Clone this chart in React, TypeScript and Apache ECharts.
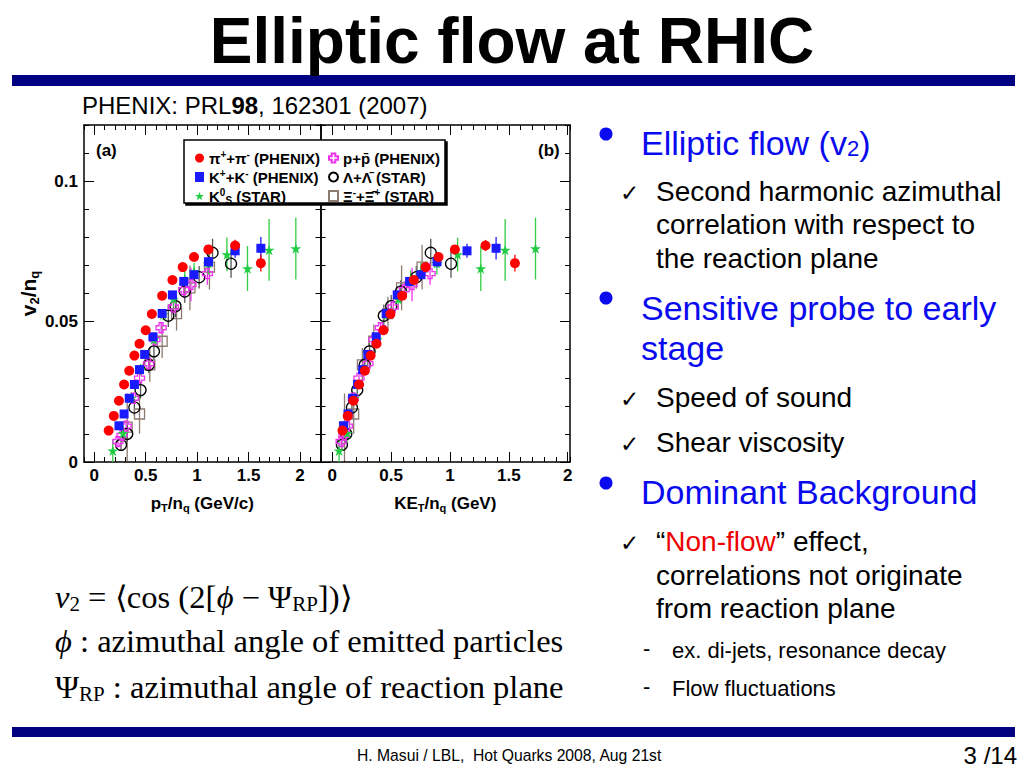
import React, { useEffect, useRef } from 'react';
import * as echarts from 'echarts';

// ---------------- data ----------------
// pi+ + pi- (PHENIX)
const piPt = [0.14, 0.19, 0.24, 0.29, 0.34, 0.39, 0.44, 0.50, 0.56, 0.66, 0.76, 0.86, 0.97, 1.11, 1.37, 1.62];
const piKe = [0.087, 0.132, 0.180, 0.228, 0.277, 0.326, 0.376, 0.435, 0.494, 0.594, 0.693, 0.793, 0.903, 1.042, 1.302, 1.552];
const piV = [0.0112, 0.0164, 0.0218, 0.0276, 0.0325, 0.0379, 0.0421, 0.0469, 0.0527, 0.0592, 0.0648, 0.0694, 0.0730, 0.0757, 0.0771, 0.0708];
const piErr = [0.0008, 0.0008, 0.0008, 0.0008, 0.0008, 0.0008, 0.0008, 0.0008, 0.0009, 0.0009, 0.001, 0.001, 0.0012, 0.0015, 0.002, 0.003];
// K+ + K- (PHENIX)
const kPt = [0.24, 0.29, 0.34, 0.39, 0.44, 0.49, 0.57, 0.66, 0.76, 0.87, 0.97, 1.11, 1.37, 1.62];
const kKe = [0.097, 0.134, 0.173, 0.215, 0.258, 0.302, 0.374, 0.458, 0.552, 0.657, 0.754, 0.890, 1.145, 1.392];
const kV = [0.0129, 0.0171, 0.0227, 0.0276, 0.0329, 0.0383, 0.0446, 0.0529, 0.0595, 0.0643, 0.0667, 0.0713, 0.0752, 0.0761];
const kErr = [0.001, 0.001, 0.001, 0.001, 0.001, 0.001, 0.001, 0.0012, 0.0012, 0.0015, 0.0018, 0.002, 0.0025, 0.004];
// K0S (STAR)
const ksPt = [0.18, 0.28, 0.36, 0.45, 0.58, 0.67, 0.77, 0.88, 0.97, 1.11, 1.29, 1.49, 1.70, 1.96];
const ksKe = [0.058, 0.126, 0.189, 0.265, 0.382, 0.466, 0.560, 0.666, 0.753, 0.889, 1.065, 1.262, 1.469, 1.727];
const ksV = [0.004, 0.0102, 0.0228, 0.0329, 0.0436, 0.0525, 0.058, 0.0652, 0.0679, 0.0708, 0.0739, 0.0689, 0.0755, 0.076];
const ksErr = [0.004, 0.003, 0.002, 0.002, 0.002, 0.002, 0.003, 0.003, 0.003, 0.004, 0.006, 0.008, 0.011, 0.011];
// p + pbar (PHENIX)
const pPt = [0.23, 0.27, 0.31, 0.38, 0.44, 0.53, 0.59, 0.65, 0.77, 0.87, 0.94, 1.10];
const pKe = [0.0755, 0.100, 0.128, 0.179, 0.227, 0.303, 0.355, 0.409, 0.518, 0.612, 0.678, 0.831];
const pV = [0.0073, 0.0095, 0.0128, 0.0227, 0.0299, 0.035, 0.0436, 0.0478, 0.0552, 0.0614, 0.0632, 0.0671];
const pErr = [0.002, 0.002, 0.002, 0.002, 0.002, 0.002, 0.002, 0.002, 0.003, 0.003, 0.006, 0.004];
// Lambda + anti-Lambda (STAR)
const lPt = [0.26, 0.32, 0.39, 0.45, 0.53, 0.58, 0.72, 0.79, 0.88, 1.02, 1.15, 1.33];
const lKe = [0.082, 0.119, 0.167, 0.212, 0.276, 0.317, 0.438, 0.501, 0.583, 0.714, 0.837, 1.009];
const lV = [0.0061, 0.01, 0.0194, 0.0256, 0.0346, 0.0394, 0.0521, 0.0555, 0.0607, 0.0658, 0.0745, 0.0706];
const lErr = [0.002, 0.003, 0.003, 0.003, 0.003, 0.003, 0.004, 0.004, 0.004, 0.004, 0.005, 0.005];
// Xi- + anti-Xi+ (STAR)
const xiPt = [0.32, 0.44, 0.54, 0.66, 0.80, 0.93, 1.12];
const xiKe = [0.104, 0.182, 0.256, 0.353, 0.473, 0.589, 0.763];
const xiV = [0.0124, 0.0171, 0.0346, 0.043, 0.0528, 0.062, 0.0694];
const xiErr = [0.012, 0.007, 0.006, 0.006, 0.006, 0.008, 0.008];

// tick labels
const xMajor = [0, 0.5, 1, 1.5, 2];
const yMajor = [0, 0.05, 0.1];

// ---------------- styles ----------------
const SANS = '"Liberation Sans", Arial, Helvetica, sans-serif';
const SERIF = '"Liberation Serif", "Times New Roman", serif';
const STAR = 'path://M0,-10 L2.245,-3.09 L9.511,-3.09 L3.633,1.18 L5.878,8.09 L0,3.82 L-5.878,8.09 L-3.633,1.18 L-9.511,-3.09 L-2.245,-3.09 Z';
const CROSS = 'path://M-2,-5 L2,-5 L2,-2 L5,-2 L5,2 L2,2 L2,5 L-2,5 L-2,2 L-5,2 L-5,-2 L-2,-2 Z';

const NAMES = {
  pi: 'π+π- (PHENIX)',
  k: 'K+K- (PHENIX)',
  ks: 'K0S (STAR)',
  p: 'p+pbar (PHENIX)',
  l: 'Λ+Λbar (STAR)',
  xi: 'Ξ-+Ξbar+ (STAR)',
};
const LEGEND_RICH: Record<string, string> = {
  [NAMES.pi]: '{b|π}{sup|+}{b|+π}{sup|-}{b| (PHENIX)}',
  [NAMES.k]: '{b|K}{sup|+}{b|+K}{sup|-}{b| (PHENIX)}',
  [NAMES.ks]: '{b|K}{sup|0}{sub|S}{b| (STAR)}',
  [NAMES.p]: '{b|p+p\u0304 (PHENIX)}',
  [NAMES.l]: '{b|Λ+Λ\u0304 (STAR)}',
  [NAMES.xi]: '{b|Ξ}{sup|-}{b|+Ξ\u0304}{sup|+}{b| (STAR)}',
};

const species = [
  { name: NAMES.xi, pt: xiPt, ke: xiKe, v: xiV, err: xiErr, symbol: 'rect', size: 10, fill: 'rgba(255,255,255,0)', border: '#8c7b70', bw: 1.3, errColor: '#8c7b70' },
  { name: NAMES.l, pt: lPt, ke: lKe, v: lV, err: lErr, symbol: 'circle', size: 11, fill: 'rgba(255,255,255,0)', border: '#000000', bw: 1.3, errColor: '#555555' },
  { name: NAMES.p, pt: pPt, ke: pKe, v: pV, err: pErr, symbol: CROSS, size: 10, fill: 'rgba(255,255,255,0)', border: '#ee33ee', bw: 1.3, errColor: '#ee33ee' },
  { name: NAMES.ks, pt: ksPt, ke: ksKe, v: ksV, err: ksErr, symbol: STAR, size: 11, fill: '#22cc44', border: '#22cc44', bw: 0, errColor: '#33cc44' },
  { name: NAMES.k, pt: kPt, ke: kKe, v: kV, err: kErr, symbol: 'rect', size: 9, fill: '#1a1aff', border: '#1a1aff', bw: 0, errColor: '#1a1aff' },
  { name: NAMES.pi, pt: piPt, ke: piKe, v: piV, err: piErr, symbol: 'circle', size: 10, fill: '#ff0000', border: '#ff0000', bw: 0, errColor: '#ff0000' },
];

// ---------------- layout ----------------
const grids = [
  { left: 84, top: 125, width: 236.5, height: 337 },
  { left: 320.5, top: 125, width: 249.5, height: 337 },
];
const xRange = [[-0.1, 2.2], [-0.1, 2.02]];
const yRange = [0, 0.12];

const labelStyle = { color: '#000', fontWeight: 'bold' as const, fontSize: 17, fontFamily: SANS };

function nameStyle(size: number) {
  return {
    color: '#000', fontWeight: 'bold', fontSize: size, fontFamily: SANS, lineHeight: size + 4,
    rich: {
      b: { fontSize: size, fontWeight: 'bold', fontFamily: SANS, color: '#000', lineHeight: size + 4 },
      sub: { fontSize: Math.round(size * 0.62), fontWeight: 'bold', fontFamily: SANS, color: '#000', padding: [Math.round(size * 0.5), 0, 0, 0], lineHeight: size + 4 },
    },
  };
}

function xAxes(g: number) {
  const [min, max] = xRange[g];
  const base = { type: 'value', gridIndex: g, min, max, splitLine: { show: false } };
  const majorBottom: any = {
    ...base, position: 'bottom',
    axisLine: { show: true, onZero: false, lineStyle: { color: '#000', width: 1.5 } },
    axisTick: { show: true, inside: true, length: 10, customValues: xMajor, lineStyle: { color: '#000', width: 1 } },
    axisLabel: { show: true, customValues: xMajor, margin: 5, ...labelStyle },
    name: g === 0 ? '{b|p}{sub|T}{b|/n}{sub|q}{b| (GeV/c)}' : '{b|KE}{sub|T}{b|/n}{sub|q}{b| (GeV)}',
    nameLocation: 'middle', nameGap: 31, nameTextStyle: nameStyle(17),
  };
  const minorBottom = {
    ...base, position: 'bottom', interval: 0.1,
    axisLine: { show: false, onZero: false },
    axisTick: { show: true, inside: true, length: 5, lineStyle: { color: '#000', width: 1 } },
    axisLabel: { show: false },
  };
  const majorTop = {
    ...base, position: 'top',
    axisLine: { show: true, onZero: false, lineStyle: { color: '#000', width: 1.5 } },
    axisTick: { show: true, inside: true, length: 10, customValues: xMajor, lineStyle: { color: '#000', width: 1 } },
    axisLabel: { show: false },
  };
  const minorTop = { ...minorBottom, position: 'top' };
  return [majorBottom, minorBottom, majorTop, minorTop];
}

function yAxes(g: number) {
  const [min, max] = yRange;
  const base = { type: 'value', gridIndex: g, min, max, splitLine: { show: false } };
  const majorLeft: any = {
    ...base, position: 'left',
    axisLine: { show: true, onZero: false, lineStyle: { color: '#000', width: 1.5 } },
    axisTick: { show: true, inside: true, length: 10, customValues: yMajor, lineStyle: { color: '#000', width: 1 } },
    axisLabel: g === 0 ? { show: true, customValues: yMajor, margin: 6, ...labelStyle } : { show: false },
  };
  if (g === 0) {
    majorLeft.name = '{b|v}{sub|2}{b|/n}{sub|q}';
    majorLeft.nameLocation = 'middle';
    majorLeft.nameGap = 42;
    majorLeft.nameRotate = 90;
    majorLeft.nameTextStyle = nameStyle(21);
  }
  const minorLeft = {
    ...base, position: 'left', interval: 0.01,
    axisLine: { show: false, onZero: false },
    axisTick: { show: true, inside: true, length: 5, lineStyle: { color: '#000', width: 1 } },
    axisLabel: { show: false },
  };
  const majorRight = {
    ...base, position: 'right',
    axisLine: { show: true, onZero: false, lineStyle: { color: '#000', width: 1.5 } },
    axisTick: { show: true, inside: true, length: 10, customValues: yMajor, lineStyle: { color: '#000', width: 1 } },
    axisLabel: { show: false },
  };
  const minorRight = { ...minorLeft, position: 'right' };
  return [majorLeft, minorLeft, majorRight, minorRight];
}

function makeErr(color: string) {
  return (params: any, api: any) => {
    const x = api.value(0);
    const y = api.value(1);
    const e = api.value(2);
    const lo = api.coord([x, y - e]);
    const hi = api.coord([x, y + e]);
    return {
      type: 'line',
      shape: { x1: lo[0], y1: lo[1], x2: hi[0], y2: hi[1] },
      style: { stroke: color, lineWidth: 1.3 },
    };
  };
}

function buildSeries() {
  const out: any[] = [];
  species.forEach((sp, si) => {
    [0, 1].forEach((g) => {
      const xs = g === 0 ? sp.pt : sp.ke;
      out.push({
        type: 'custom', name: sp.name + ' err', xAxisIndex: g * 4, yAxisIndex: g * 4,
        data: xs.map((x, i) => [x, sp.v[i], sp.err[i]]),
        renderItem: makeErr(sp.errColor), clip: true, silent: true, z: 2,
      });
      out.push({
        type: 'scatter', name: sp.name, xAxisIndex: g * 4, yAxisIndex: g * 4,
        data: xs.map((x, i) => [x, sp.v[i]]),
        symbol: sp.symbol, symbolSize: sp.size, symbolKeepAspect: true,
        itemStyle: { color: sp.fill, borderColor: sp.border, borderWidth: sp.bw, opacity: 1 },
        silent: true, z: 3 + si,
      });
    });
  });
  return out;
}

const LEG_FS = 15;
const legendText = {
  color: '#000', fontWeight: 'bold' as const, fontSize: LEG_FS, fontFamily: SANS, lineHeight: 18,
  rich: {
    b: { fontSize: LEG_FS, fontWeight: 'bold', fontFamily: SANS, color: '#000', lineHeight: 18 },
    sup: { fontSize: 10, fontWeight: 'bold', fontFamily: SANS, color: '#000', padding: [0, 0, 8, 0], lineHeight: 18 },
    sub: { fontSize: 10, fontWeight: 'bold', fontFamily: SANS, color: '#000', padding: [8, 0, 0, 0], lineHeight: 18 },
  },
};

function txt(x: number, y: number, text: string, size: number, color: string, opts: any = {}) {
  return {
    type: 'text', x, y, z: 100,
    scaleX: opts.scaleX || 1,
    style: {
      text, fill: color, fontSize: size, fontFamily: opts.family || SANS, fontWeight: opts.weight || 'normal',
      fontStyle: opts.style || 'normal',
      align: opts.align || 'left', textAlign: opts.align || 'left',
      verticalAlign: 'middle', textVerticalAlign: 'middle',
      rich: opts.rich,
    },
  };
}

function buildGraphic() {
  const BLUE = '#0a0aee';
  const g: any[] = [];
  g.push({ type: 'rect', z: 100, shape: { x: 12, y: 75, width: 1003, height: 11 }, style: { fill: '#000080' } });
  g.push({ type: 'rect', z: 100, shape: { x: 12, y: 727, width: 1003, height: 10 }, style: { fill: '#000080' } });
  g.push(txt(512, 41, 'Elliptic flow at RHIC', 64, '#000', { align: 'center', weight: 'bold' }));
  g.push(txt(82, 105, 'PHENIX: PRL{b|98}, 162301 (2007)', 24, '#000', {
    rich: { b: { fontSize: 24, fontWeight: 'bold', fontFamily: SANS, fill: '#000' } },
  }));
  // panel labels
  g.push(txt(96, 150, '(a)', 17, '#000', { weight: 'bold' }));
  g.push(txt(538, 150, '(b)', 17, '#000', { weight: 'bold' }));
  // legend box
  g.push({
    type: 'rect', z: 50, shape: { x: 184, y: 140, width: 261, height: 63 },
    style: { fill: '#fff', stroke: '#000', lineWidth: 1.5, shadowColor: '#000', shadowOffsetX: 2, shadowOffsetY: 2, shadowBlur: 0 },
  });
  // right column: bullets
  [134, 298, 483].forEach((y) => g.push({ type: 'circle', z: 100, shape: { cx: 606, cy: y, r: 6.5 }, style: { fill: BLUE } }));
  g.push(txt(641, 143, 'Elliptic flow (v{s|2})', 34, BLUE, {
    rich: { s: { fontSize: 22, fontFamily: SANS, fill: BLUE, padding: [10, 0, 0, 0] } },
  }));
  g.push(txt(641, 308, 'Sensitive probe to early', 34, BLUE));
  g.push(txt(641, 348, 'stage', 34, BLUE));
  g.push(txt(641, 492, 'Dominant Background', 34, BLUE));
  // checks
  [191, 397, 442, 541].forEach((y) => g.push(txt(620, y + 2, '✓', 23, '#000', { family: '"DejaVu Sans", sans-serif' })));
  g.push(txt(656, 191, 'Second harmonic azimuthal', 28, '#000'));
  g.push(txt(656, 224, 'correlation with respect to', 28, '#000'));
  g.push(txt(656, 258, 'the reaction plane', 28, '#000'));
  g.push(txt(656, 397, 'Speed of sound', 28, '#000'));
  g.push(txt(656, 442, 'Shear viscosity', 28, '#000'));
  g.push(txt(656, 541, '“{r|Non-flow}” effect,', 28, '#000', {
    rich: { r: { fontSize: 28, fontFamily: SANS, fill: '#ee0000' } },
  }));
  g.push(txt(656, 575, 'correlations not originate', 28, '#000'));
  g.push(txt(656, 608, 'from reaction plane', 28, '#000'));
  g.push(txt(643, 648, '-', 22, '#000'));
  g.push(txt(643, 686, '-', 22, '#000'));
  g.push(txt(672, 650, 'ex. di-jets, resonance decay', 22, '#000'));
  g.push(txt(672, 688, 'Flow fluctuations', 22, '#000'));
  // formulas
  const FS = 31;
  const serifRich = {
    it: { fontSize: FS, fontFamily: SERIF, fontStyle: 'italic', fill: '#000' },
    sub: { fontSize: 20, fontFamily: SERIF, fill: '#000', padding: [13, 0, 0, 0] },
  };
  const fo = { family: SERIF, rich: serifRich, scaleX: 1.05 };
  g.push(txt(55, 598, '{it|v}{sub|2} = ⟨cos (2[{it|ϕ} − Ψ{sub|RP}])⟩', FS, '#000', fo));
  g.push(txt(55, 642, '{it|ϕ} : azimuthal angle of emitted particles', FS, '#000', fo));
  g.push(txt(55, 688, 'Ψ{sub|RP} : azimuthal angle of reaction plane', FS, '#000', fo));
  // footer
  g.push(txt(357, 755, 'H. Masui / LBL,  Hot Quarks 2008, Aug 21st', 15.7, '#000'));
  g.push(txt(1017, 755, '3 /14', 24, '#000', { align: 'right' }));
  return g;
}

function buildOption() {
  const xs: any[] = [];
  const ys: any[] = [];
  [0, 1].forEach((g) => {
    xs.push(...xAxes(g));
    ys.push(...yAxes(g));
  });
  const fmt = (n: string) => LEGEND_RICH[n] || n;
  return {
    animation: false,
    backgroundColor: '#ffffff',
    grid: grids.map((gr) => ({ ...gr, containLabel: false })),
    xAxis: xs,
    yAxis: ys,
    legend: [
      {
        data: [NAMES.pi, NAMES.k, NAMES.ks], orient: 'vertical', left: 190, top: 144,
        itemWidth: 9, itemHeight: 10, itemGap: 1, formatter: fmt, textStyle: legendText, z: 60, selectedMode: false,
      },
      {
        data: [NAMES.p, NAMES.l, NAMES.xi], orient: 'vertical', left: 323, top: 144,
        itemWidth: 9, itemHeight: 10, itemGap: 1, formatter: fmt, textStyle: legendText, z: 60, selectedMode: false,
      },
    ],
    series: buildSeries(),
    graphic: buildGraphic(),
  };
}

export default function App() {
  const ref = useRef<HTMLDivElement>(null);
  useEffect(() => {
    if (!ref.current) return;
    const chart = echarts.init(ref.current, null, { renderer: 'svg', width: 1024, height: 768 });
    chart.setOption(buildOption() as any);
    return () => chart.dispose();
  }, []);
  return (
    <div
      ref={ref}
      style={{ position: 'absolute', left: 0, top: 0, width: 1024, height: 768, background: '#fff' }}
    />
  );
}
